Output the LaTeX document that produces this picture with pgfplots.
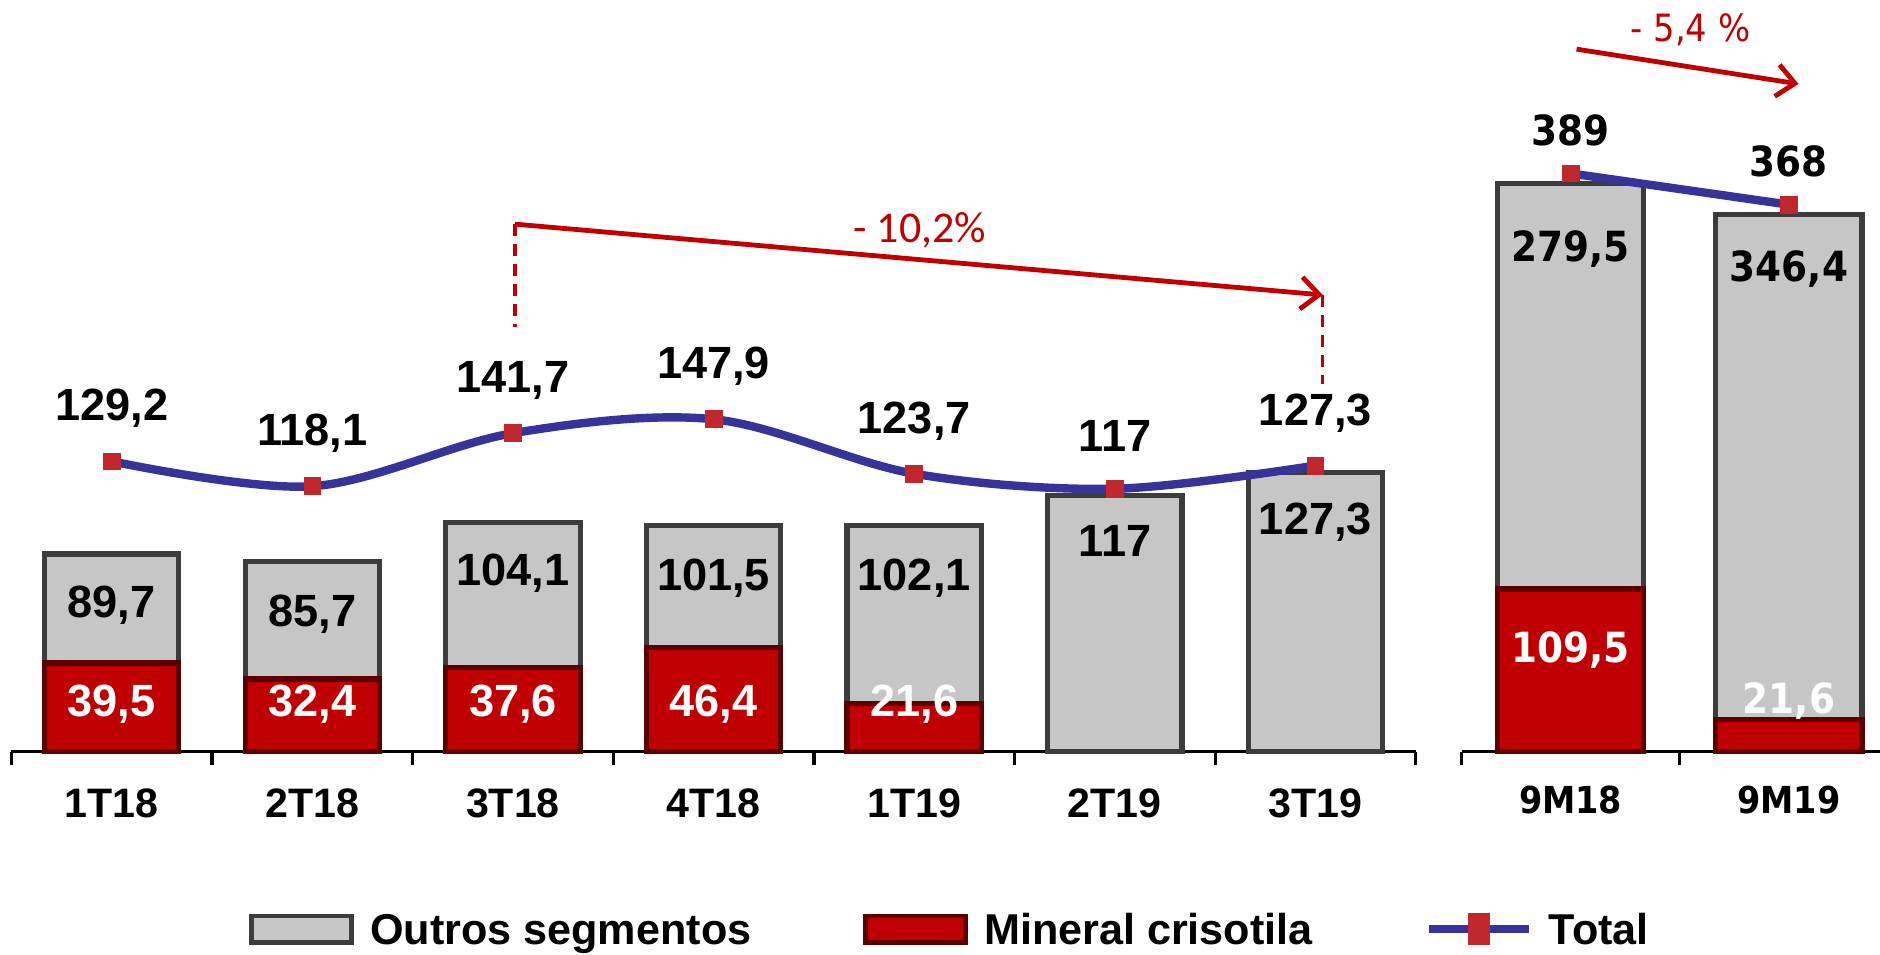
\documentclass[border=0pt]{standalone}
\usepackage{pgfplots}
\pgfplotsset{compat=1.18}
\usepackage{pgfplotstable}
\usetikzlibrary{arrows.meta}
\usepackage{fontspec}
\setmainfont{Liberation Sans}
\newfontfamily\tahoma[FakeStretch=0.9]{DejaVu Sans}
\newfontfamily\calib{Carlito}

\definecolor{greyfill}{RGB}{198,198,198}
\definecolor{greyedge}{RGB}{60,60,60}
\definecolor{redfill}{RGB}{192,0,0}
\definecolor{rededge}{RGB}{90,0,0}
\definecolor{lineblue}{RGB}{54,52,154}
\definecolor{markred}{RGB}{192,40,45}
\definecolor{annot}{RGB}{192,0,0}

\newcommand{\labL}{\fontsize{11.3}{13}\selectfont\bfseries}
\newcommand{\labR}{\tahoma\fontsize{10.4}{12}\selectfont\bfseries}
\newcommand{\catL}{\fontsize{10.3}{12}\selectfont\bfseries}
\newcommand{\catR}{\tahoma\fontsize{9.3}{11}\selectfont\bfseries}

% x red grey(drawn) total ylab(red) ylab(grey) labels
\pgfplotstableread{
x red grey total ry gy tlab rlab glab
0 39.5 48.5 129.2 21.3 65.1 129,2 39,5 89,7
1 32.4 52.4 118.1 21.3 61.3 118,1 32,4 85,7
2 37.6 64.3 141.7 21.3 79.3 141,7 37,6 104,1
3 46.4 54.4 147.9 21.3 77.1 147,9 46,4 101,5
4 21.6 79.2 123.7 21.3 77.1 123,7 21,6 102,1
5 0 114.1 117.0 21.3 93.9 117 - 117
6 0 124.3 127.3 21.3 102.1 127,3 - 127,3
}\leftdata

\pgfplotstableread{
x red grey total ry gy tlab rlab glab
0 109.5 272.9 389 68.5 338.2 389 109,5 279,5
1 21.6 339.7 368 33.9 325.0 368 21,6 346,4
}\rightdata

\begin{document}
\begin{tikzpicture}
\useasboundingbox (0,0) rectangle (470.4pt,238.8pt);
\clip (0,0) rectangle (470.4pt,238.8pt);

%================ LEFT PANEL ================
\begin{axis}[
  at={(2.85pt,50.7pt)}, anchor=south west,
  scale only axis, width=351.4pt, height=106.875pt,
  xmin=-0.5, xmax=6.5, ymin=0, ymax=190,
  clip=false,
  axis y line=none, axis x line*=bottom,
  x axis line style={line width=0.8pt, black},
  xtick={0,...,6},
  xticklabels={1T18,2T18,3T18,4T18,1T19,2T19,3T19},
  minor xtick={-0.5,0.5,...,6.5},
  major tick length=0pt, minor tick length=3.3pt, tick align=outside,
  minor tick style={line width=0.8pt, black},
  xticklabel style={font=\catL, anchor=center, yshift=-13pt},
  legend columns=-1,
  legend style={draw=none, fill=none, at={(axis description cs:0.1695,-0.4154)},
    anchor=west, inner sep=0pt, outer sep=0pt,
    font=\fontsize{10.8}{13}\selectfont\bfseries,
    nodes={inner sep=0pt, text depth=0pt},
    /tikz/every odd column/.append style={column sep=4pt},
    /tikz/every even column/.append style={column sep=28pt}},
]
% grey bars (Outros segmentos), drawn to the top of the stack
\addplot[ybar, bar width=33.6pt, bar shift=0pt, fill=greyfill, draw=greyedge, line width=1.3pt,
  legend image code/.code={\draw[fill=greyfill, draw=greyedge, line width=1.2pt] (0pt,-3.3pt) rectangle (25pt,3.3pt);}]
  table[x=x, y expr=\thisrow{red}+\thisrow{grey}] \leftdata;
\addlegendentry{Outros segmentos}
% red bars (Mineral crisotila)
\addplot[ybar, bar width=33.6pt, bar shift=0pt, fill=redfill, draw=rededge, line width=1.3pt,
  skip coords between index={5}{7},
  legend image code/.code={\draw[fill=redfill, draw=rededge, line width=1.2pt] (0pt,-3.3pt) rectangle (25pt,3.3pt);}]
  table[x=x, y=red] \leftdata;
\addlegendentry{Mineral crisotila}
% Total line
\addplot[smooth, tension=0.55, line width=2.1pt, color=lineblue,
  mark=square*, mark size=2.1pt, mark options={fill=markred, draw=markred, line width=0.2pt, solid},
  nodes near coords, point meta=explicit symbolic,
  nodes near coords style={anchor=center, yshift=13.2pt, font=\labL, text=black},
  legend image code/.code={\draw[line width=2.1pt, lineblue] (0pt,0pt) -- (25pt,0pt);
     \fill[markred] (10.8pt,-3pt) rectangle (14.2pt,3pt);}]
  table[x=x, y=total, meta=tlab] \leftdata;
\addlegendentry{Total}
% labels inside bars
\addplot[forget plot, only marks, mark=*, mark size=0pt, mark options={draw=none, fill=none},
  nodes near coords, point meta=explicit symbolic,
  nodes near coords style={anchor=center, font=\labL, text=black}]
  table[x=x, y=gy, meta=glab] \leftdata;
\addplot[forget plot, only marks, mark=*, mark size=0pt, mark options={draw=none, fill=none},
  skip coords between index={5}{7},
  nodes near coords, point meta=explicit symbolic,
  nodes near coords style={anchor=center, font=\labL, text=white}]
  table[x=x, y=ry, meta=rlab] \leftdata;
% annotation
\draw[annot, line width=1.2pt, -{Straight Barb[length=4.5pt,width=8pt,line width=1.2pt]}]
  (axis cs:2.01,234.7) -- (axis cs:6.036,203.2);
\draw[annot, line width=0.8pt, dash pattern=on 3pt off 2pt] (axis cs:2.01,234.7) -- (axis cs:2.01,189.1);
\draw[annot, line width=0.8pt, dash pattern=on 3pt off 2pt] (axis cs:6.036,203.2) -- (axis cs:6.036,163.7);
\node[text=annot, font=\calib\fontsize{11}{13}\selectfont] at (axis cs:4.027,232) {- 10,2\%};
\end{axis}

%================ RIGHT PANEL ================
\begin{axis}[
  at={(365.7pt,50.7pt)}, anchor=south west,
  scale only axis, width=109.2pt, height=156.24pt,
  xmin=-0.5, xmax=1.5, ymin=0, ymax=420,
  clip=false,
  axis y line=none, axis x line*=bottom,
  x axis line style={line width=0.8pt, black},
  xtick={0,1},
  xticklabels={9M18,9M19},
  minor xtick={-0.5,0.5,1.5},
  major tick length=0pt, minor tick length=3.3pt, tick align=outside,
  minor tick style={line width=0.8pt, black},
  xticklabel style={font=\catR, anchor=center, yshift=-12pt},
]
\addplot[ybar, bar width=36.6pt, bar shift=0pt, fill=greyfill, draw=greyedge, line width=1.3pt]
  table[x=x, y expr=\thisrow{red}+\thisrow{grey}] \rightdata;
\addplot[ybar, bar width=36.6pt, bar shift=0pt, fill=redfill, draw=rededge, line width=1.3pt]
  table[x=x, y=red] \rightdata;
\addplot[line width=2.1pt, color=lineblue,
  mark=square*, mark size=2.1pt, mark options={fill=markred, draw=markred, line width=0.2pt, solid},
  nodes near coords, point meta=explicit symbolic,
  nodes near coords style={anchor=center, yshift=10.8pt, font=\labR, text=black}]
  table[x=x, y=total, meta=tlab] \rightdata;
\addplot[only marks, mark=*, mark size=0pt, mark options={draw=none, fill=none},
  nodes near coords, point meta=explicit symbolic,
  nodes near coords style={anchor=center, font=\labR, text=black}]
  table[x=x, y=gy, meta=glab] \rightdata;
\addplot[only marks, mark=*, mark size=0pt, mark options={draw=none, fill=none},
  nodes near coords, point meta=explicit symbolic,
  nodes near coords style={anchor=center, font=\labR, text=white}]
  table[x=x, y=ry, meta=rlab] \rightdata;
\draw[annot, line width=1.2pt, -{Straight Barb[length=4.5pt,width=8pt,line width=1.2pt]}]
  (axis cs:0.027,472.6) -- (axis cs:1.044,449.2);
\node[text=annot, font=\tahoma\fontsize{9.4}{11}\selectfont] at (axis cs:0.549,485.5) {- 5,4 \%};
\end{axis}
\end{tikzpicture}
\end{document}
